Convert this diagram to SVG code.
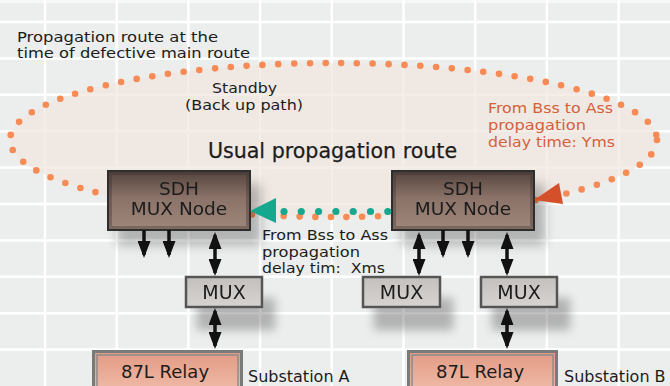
<svg xmlns="http://www.w3.org/2000/svg" width="670" height="386" viewBox="0 0 670 386">
<style>
.t{font-family:"DejaVu Sans","Liberation Sans",sans-serif;fill:#1c1c1c}
.s16{font-size:16px}
.s14{font-size:14.2px}
.red{fill:#d4613c}
.grid line{stroke:#ffffff;stroke-width:2.5}
.arr{stroke:#111;stroke-width:3.5;fill:none}
</style>
<defs>
<linearGradient id="sdh" x1="0" y1="0" x2="0" y2="1">
<stop offset="0" stop-color="#54443e"/>
<stop offset="0.45" stop-color="#8a7268"/>
<stop offset="1" stop-color="#9f877b"/>
</linearGradient>
<linearGradient id="mux" x1="0" y1="0" x2="0" y2="1">
<stop offset="0" stop-color="#c4c0bd"/>
<stop offset="1" stop-color="#d6d3d1"/>
</linearGradient>
<linearGradient id="relay" x1="0" y1="0" x2="0" y2="1">
<stop offset="0" stop-color="#e29a84"/>
<stop offset="1" stop-color="#efbba8"/>
</linearGradient>
<filter id="sh" x="-30%" y="-40%" width="180%" height="220%">
<feGaussianBlur in="SourceAlpha" stdDeviation="6"/>
<feOffset dx="10" dy="14" result="b"/>
<feComponentTransfer><feFuncA type="linear" slope="0.25"/></feComponentTransfer>
<feMerge><feMergeNode/><feMergeNode in="SourceGraphic"/></feMerge>
</filter>
<filter id="sh2" x="-30%" y="-60%" width="180%" height="300%">
<feGaussianBlur in="SourceAlpha" stdDeviation="5"/>
<feOffset dx="12" dy="22" result="b"/>
<feComponentTransfer><feFuncA type="linear" slope="0.25"/></feComponentTransfer>
<feMerge><feMergeNode/><feMergeNode in="SourceGraphic"/></feMerge>
</filter>
<marker id="ah" viewBox="0 0 17 13" refX="14" refY="6.5" markerWidth="17" markerHeight="13" markerUnits="userSpaceOnUse" orient="auto-start-reverse">
<path d="M0,0 L17,6.5 L0,13 Z" fill="#111"/>
</marker>
</defs>
<rect width="670" height="386" fill="#eceeed"/>
<rect width="670" height="3" fill="#f7f7f7"/>
<g class="grid">
<line x1="45" y1="0" x2="45" y2="386"/>
<line x1="116.7" y1="0" x2="116.7" y2="386"/>
<line x1="188.4" y1="0" x2="188.4" y2="386"/>
<line x1="260.1" y1="0" x2="260.1" y2="386"/>
<line x1="331.8" y1="0" x2="331.8" y2="386"/>
<line x1="403.5" y1="0" x2="403.5" y2="386"/>
<line x1="475.2" y1="0" x2="475.2" y2="386"/>
<line x1="546.9" y1="0" x2="546.9" y2="386"/>
<line x1="618.6" y1="0" x2="618.6" y2="386"/>
<line x1="0" y1="22" x2="670" y2="22"/>
<line x1="0" y1="58.4" x2="670" y2="58.4"/>
<line x1="0" y1="94.8" x2="670" y2="94.8"/>
<line x1="0" y1="131.2" x2="670" y2="131.2"/>
<line x1="0" y1="167.6" x2="670" y2="167.6"/>
<line x1="0" y1="204" x2="670" y2="204"/>
<line x1="0" y1="240.4" x2="670" y2="240.4"/>
<line x1="0" y1="276.8" x2="670" y2="276.8"/>
<line x1="0" y1="313.2" x2="670" y2="313.2"/>
<line x1="0" y1="349.6" x2="670" y2="349.6"/>
</g>
<g id="standby-route">
<ellipse cx="333.5" cy="140" rx="323.5" ry="77" fill="#f1e5de" fill-opacity="0.7" stroke="#f68b55" stroke-width="6.6" stroke-linecap="round" stroke-dasharray="0 15.8"/>
</g>
<g id="labels">
<text class="t s14" x="17" y="41.5" textLength="201" lengthAdjust="spacingAndGlyphs">Propagation route at the</text>
<text class="t s14" x="17" y="58.3" textLength="233" lengthAdjust="spacingAndGlyphs">time of defective main route</text>
<text class="t s14" x="212" y="93" textLength="65" lengthAdjust="spacingAndGlyphs">Standby</text>
<text class="t s14" x="185" y="110" textLength="118" lengthAdjust="spacingAndGlyphs">(Back up path)</text>
<text class="t" x="332.5" y="158" font-size="20.6" text-anchor="middle" stroke="#1c1c1c" stroke-width="0.25">Usual propagation route</text>
<text class="t s14 red" x="488" y="113" textLength="125" lengthAdjust="spacingAndGlyphs">From Bss to Ass</text>
<text class="t s14 red" x="488" y="130" textLength="98" lengthAdjust="spacingAndGlyphs">propagation</text>
<text class="t s14 red" x="488" y="147" textLength="127" lengthAdjust="spacingAndGlyphs">delay time: Yms</text>
<text class="t s14" x="262" y="240" textLength="126" lengthAdjust="spacingAndGlyphs">From Bss to Ass</text>
<text class="t s14" x="262" y="256.5" textLength="98" lengthAdjust="spacingAndGlyphs">propagation</text>
<text class="t s14" x="262" y="273" textLength="123" lengthAdjust="spacingAndGlyphs" xml:space="preserve">delay tim:  Xms</text>
<text class="t s16" x="248" y="381.5">Substation A</text>
<text class="t s16" x="564" y="382">Substation B</text>
</g>
<g id="sdh-a" filter="url(#sh)">
<rect x="108" y="171" width="142" height="59" fill="url(#sdh)" stroke="#2e2e2e" stroke-width="2"/>
<rect x="110.5" y="173.5" width="137" height="54" fill="none" stroke="#3a2e2a" stroke-opacity="0.35" stroke-width="3"/>
<text class="t" x="179" y="195" font-size="18.5" text-anchor="middle">SDH</text>
<text class="t" x="179" y="215" font-size="18.5" text-anchor="middle">MUX Node</text>
</g>
<g id="sdh-b" filter="url(#sh)">
<rect x="392" y="171" width="142" height="59" fill="url(#sdh)" stroke="#2e2e2e" stroke-width="2"/>
<rect x="394.5" y="173.5" width="137" height="54" fill="none" stroke="#3a2e2a" stroke-opacity="0.35" stroke-width="3"/>
<text class="t" x="463" y="195" font-size="18.5" text-anchor="middle">SDH</text>
<text class="t" x="463" y="215" font-size="18.5" text-anchor="middle">MUX Node</text>
</g>
<g id="mux-a" filter="url(#sh2)">
<rect x="186" y="277" width="76" height="30" fill="url(#mux)" stroke="#555" stroke-width="2.5"/>
<text class="t" x="224" y="299" font-size="19" text-anchor="middle">MUX</text>
</g>
<g id="mux-b1" filter="url(#sh2)">
<rect x="363" y="277" width="77" height="30" fill="url(#mux)" stroke="#555" stroke-width="2.5"/>
<text class="t" x="401.5" y="299" font-size="19" text-anchor="middle">MUX</text>
</g>
<g id="mux-b2" filter="url(#sh2)">
<rect x="481" y="277" width="76" height="30" fill="url(#mux)" stroke="#555" stroke-width="2.5"/>
<text class="t" x="519" y="299" font-size="19" text-anchor="middle">MUX</text>
</g>
<g id="relay-a">
<rect x="93.5" y="351.5" width="148" height="40" fill="url(#relay)" stroke="#7a7a7a" stroke-width="3"/>
<rect x="97" y="355" width="141" height="36" fill="none" stroke="#8c8c8c" stroke-width="1.5"/>
<text class="t" x="165" y="378" font-size="18" text-anchor="middle">87L Relay</text>
</g>
<g id="relay-b">
<rect x="408.5" y="351.5" width="148" height="40" fill="url(#relay)" stroke="#7a7a7a" stroke-width="3"/>
<rect x="412" y="355" width="141" height="36" fill="none" stroke="#8c8c8c" stroke-width="1.5"/>
<text class="t" x="480" y="378" font-size="18" text-anchor="middle">87L Relay</text>
</g>
<g id="connectors">
<line class="arr" x1="144" y1="230" x2="144" y2="255" marker-end="url(#ah)"/>
<line class="arr" x1="169" y1="230" x2="169" y2="255" marker-end="url(#ah)"/>
<line class="arr" x1="215" y1="235" x2="215" y2="273" marker-start="url(#ah)" marker-end="url(#ah)"/>
<line class="arr" x1="443" y1="230" x2="443" y2="255" marker-end="url(#ah)"/>
<line class="arr" x1="468" y1="230" x2="468" y2="255" marker-end="url(#ah)"/>
<line class="arr" x1="419" y1="235" x2="419" y2="273" marker-start="url(#ah)" marker-end="url(#ah)"/>
<line class="arr" x1="507" y1="235" x2="507" y2="273" marker-start="url(#ah)" marker-end="url(#ah)"/>
<line class="arr" x1="215" y1="311" x2="215" y2="346" marker-start="url(#ah)" marker-end="url(#ah)"/>
<line class="arr" x1="507" y1="311" x2="507" y2="346" marker-start="url(#ah)" marker-end="url(#ah)"/>
<line x1="284" y1="211.5" x2="390" y2="211.5" stroke="#16a88e" stroke-width="7.2" stroke-linecap="round" stroke-dasharray="0 17.3"/>
<polygon points="250,211 276,198 276,223" fill="#16a88e"/>
<polygon points="534,200 559,183 563,204" fill="#d4502a"/>
</g>
</svg>
